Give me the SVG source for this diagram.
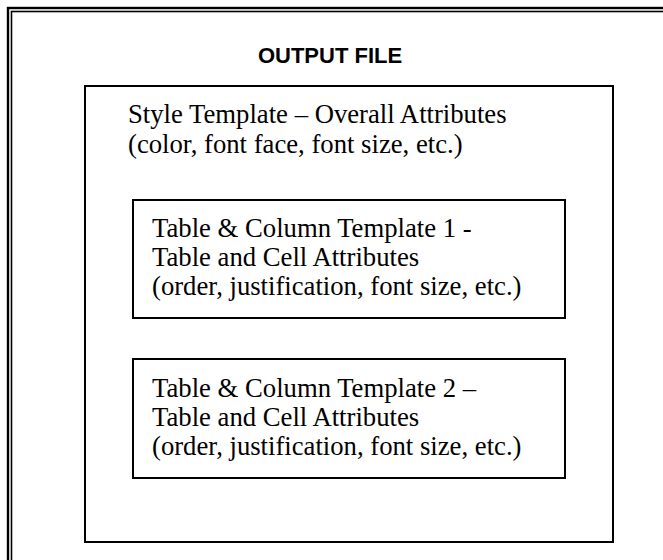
<svg xmlns="http://www.w3.org/2000/svg" width="663" height="560" viewBox="0 0 663 560">
<style>
.frame{fill:none;stroke:#000}
.box{fill:#fff;stroke:#000;stroke-width:2}
.t{font-family:"Liberation Serif","Times New Roman",serif;font-size:26.7px;fill:#000}
.h{font-family:"Liberation Sans",Arial,sans-serif;font-size:22px;font-weight:bold;fill:#000}
</style>
<rect width="663" height="560" fill="#fff"/>
<g id="page-frame">
<rect class="frame" x="8" y="8" width="700" height="600" stroke-width="2.4"/>
<rect class="frame" x="11.5" y="11.5" width="700" height="600" stroke-width="1.6"/>
</g>
<g id="title">
<text class="h" x="330" y="63" text-anchor="middle">OUTPUT FILE</text>
</g>
<g id="output-file">
<rect class="box" x="85" y="86" width="528" height="456"/>
<text class="t" x="128" y="123">Style Template – Overall Attributes</text>
<text class="t" x="128" y="153">(color, font face, font size, etc.)</text>
</g>
<g id="template-1">
<rect class="box" x="133" y="200" width="432" height="118"/>
<text class="t" x="152" y="237">Table &amp; Column Template 1 -</text>
<text class="t" x="152" y="266">Table and Cell Attributes</text>
<text class="t" x="152" y="295">(order, justification, font size, etc.)</text>
</g>
<g id="template-2">
<rect class="box" x="133" y="359" width="432" height="119"/>
<text class="t" x="152" y="397">Table &amp; Column Template 2 –</text>
<text class="t" x="152" y="426">Table and Cell Attributes</text>
<text class="t" x="152" y="455">(order, justification, font size, etc.)</text>
</g>
<g id="connectors"/>
</svg>
